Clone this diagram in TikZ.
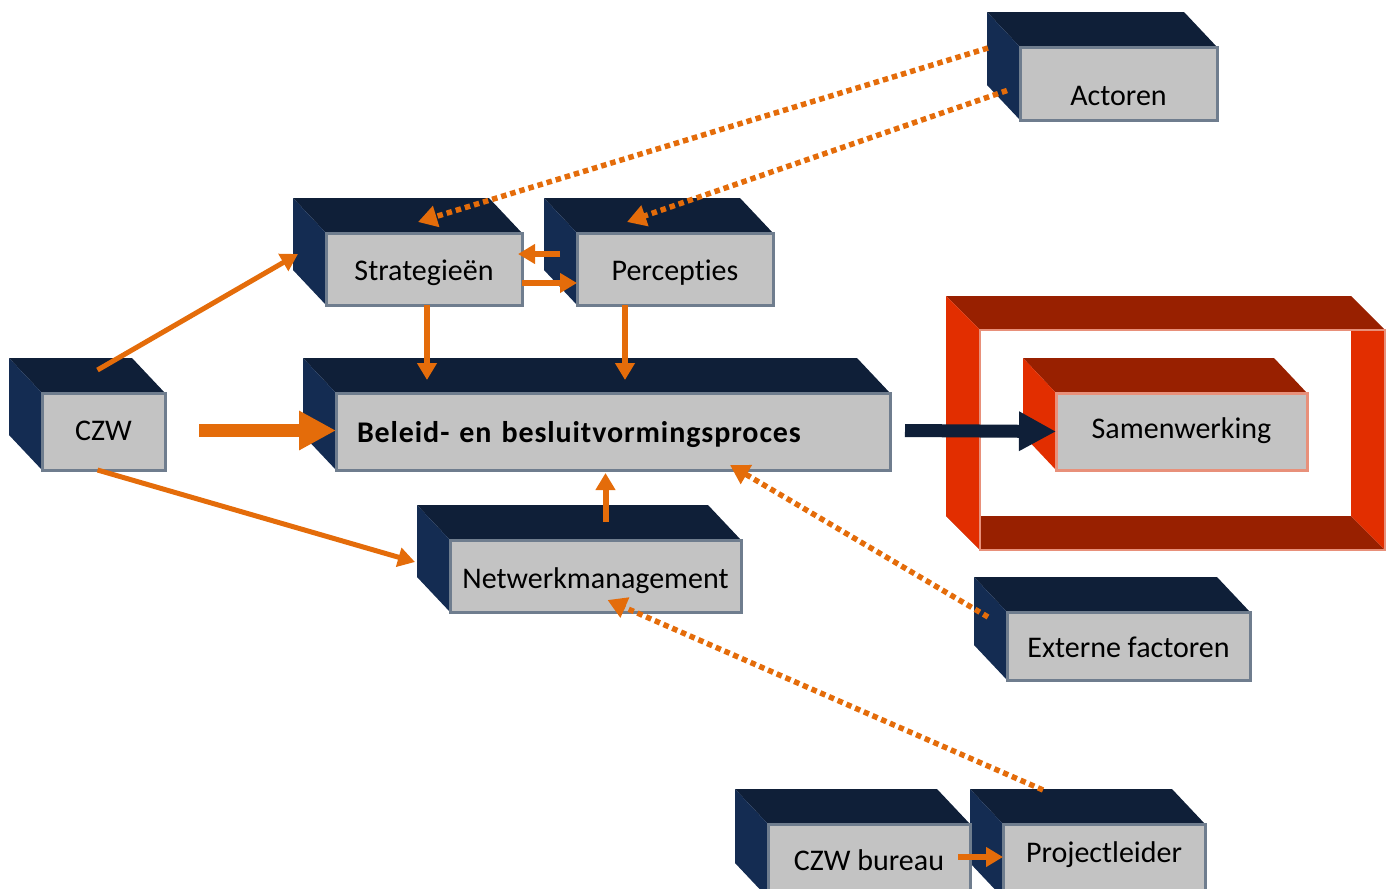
\documentclass[tikz,border=0pt]{standalone}
\usepackage{fontspec}
\setmainfont{Carlito}[Ligatures=NoCommon]
\newfontfamily\widebold{Carlito}[Ligatures=NoCommon,LetterSpace=3.0]
\usetikzlibrary{arrows.meta,backgrounds,calc}

\definecolor{navytop}{HTML}{0F1F38}
\definecolor{navyside}{HTML}{142C52}
\definecolor{facegrey}{HTML}{C3C3C3}
\definecolor{edgegrey}{HTML}{6F7D8E}
\definecolor{czworange}{HTML}{E46C0A}
\definecolor{redtop}{HTML}{982000}
\definecolor{redside}{HTML}{E22E00}
\definecolor{salmon}{HTML}{E8907A}

% top and left face of a block (drawn behind the node)
\newcommand{\blockfaces}[3]{%
  \fill[#2] (#1.north west) -- ++(-33,-35) -- ($(#1.north east)+(-33,-35)$) -- (#1.north east) -- cycle;
  \fill[#3] (#1.north west) -- ++(-33,-35) -- ($(#1.south west)+(-33,-35)$) -- (#1.south west) -- cycle;}

\begin{document}
\begin{tikzpicture}[x=1pt,y=-1pt]
        \tikzstyle{block}=[rectangle,draw=edgegrey,line width=3pt,fill=facegrey,outer sep=0pt,inner sep=0pt,text height=22pt,text depth=0pt,font=\fontsize{30}{35}\selectfont]
        \tikzstyle{flow}=[draw=czworange,line width=6pt,-{Triangle[length=17pt,width=19pt]}]
        \tikzstyle{dotflow}=[draw=czworange,line width=5.5pt,dash pattern=on 5.5pt off 4pt,-{Triangle[length=19pt,width=21pt]}]
        \tikzstyle{bigflow}=[line width=13pt,-{Triangle[length=37pt,width=37pt]}]
        \useasboundingbox (0,0) rectangle (1393,889);

        \node [block,minimum width=197pt,minimum height=73pt,text height=43pt,text width=187pt,align=center] (act) at (1118.5,83.5) {Actoren\hspace*{10pt}};
        \node [block,minimum width=196pt,minimum height=72pt] (strat) at (424,269) {Strategieën};
        \node [block,minimum width=196pt,minimum height=72pt] (perc) at (675,269) {Percepties};
        \node [block,minimum width=123pt,minimum height=77pt,text height=17pt] (czw) at (103.5,431.5) {CZW};
        \node [block,minimum width=554pt,minimum height=77pt,text width=512pt,align=left,font=\fontsize{30}{35}\selectfont\widebold\bfseries] (bel) at (613,431.5) {Beleid- en besluitvormingsproces};
        \node [block,minimum width=291pt,minimum height=72pt,text height=24pt] (netw) at (595.5,576) {Netwerkmanagement};
        \node [block,minimum width=243pt,minimum height=68pt] (ext) at (1128.5,646) {Externe factoren};
        \node [block,minimum width=202pt,minimum height=74pt,text height=18pt] (czwb) at (869,861) {CZW bureau};
        \node [block,minimum width=202pt,minimum height=74pt,text height=2pt] (proj) at (1104,861) {Projectleider};
        \node [block,draw=salmon,minimum width=251pt,minimum height=77pt,text height=13pt] (samen) at (1181.5,431.5) {Samenwerking};

        \begin{scope}[on background layer]
            % red frame round Samenwerking
            \fill[redtop] (946,296) -- (1351,296) -- (1385,330) -- (980,330) -- cycle;
            \fill[redtop] (946,516) -- (1351,516) -- (1385,550) -- (980,550) -- cycle;
            \fill[redside] (946,296) -- (980,330) -- (980,550) -- (946,516) -- cycle;
            \fill[redside] (1351,330) -- (1385,330) -- (1385,550) -- (1351,516) -- cycle;
            \draw[salmon,line width=2pt] (980,330) rectangle (1385,550);
            \blockfaces{samen}{redtop}{redside}
            \foreach \b in {act,strat,perc,czw,bel,netw,ext,czwb,proj}
                \blockfaces{\b}{navytop}{navyside};
        \end{scope}

        \draw[dotflow] ([shift={(-32,1)}]act.north west) -- ([shift={(-6,-11)}]strat.north);
        \draw[dotflow] ([shift={(-13,7)}]act.west) -- ([shift={(-48,-11)}]perc.north);
        \draw[flow] ([shift={(-17,-15)}]perc.west) -- ([shift={(-4,-15)}]strat.east);
        \draw[flow] ([shift={(0,14)}]strat.east) -- ([shift={(0,14)}]perc.west);
        \draw[flow] ([shift={(3,0)}]strat.south) -- ($(strat.south |- bel.north)+(3,-13)$);
        \draw[flow] ([shift={(-50,0)}]perc.south) -- ($(perc.south |- bel.north)+(-50,-13)$);
        \draw[flow,line width=5pt] ([shift={(-6,-23)}]czw.north) -- ([shift={(-28,-15)}]strat.west);
        \draw[flow,bigflow] ([shift={(34,-1)}]czw.east) -- ([shift={(0,-1)}]bel.west);
        \draw[flow,line width=5pt] ([shift={(-6,0)}]czw.south) -- ([shift={(-35,-14)}]netw.west);
        \draw[flow] ([shift={(10,-18)}]netw.north) -- ($(netw.north |- bel.south)+(10,3)$);
        \draw[dotflow] ([shift={(-19,5)}]ext.north west) -- ([shift={(-160,-5)}]bel.south east);
        \draw[dotflow] ([shift={(-61,-34)}]proj.north) -- ([shift={(12,-12)}]netw.south);
        \draw[flow] ([shift={(-12,-4)}]czwb.east) -- ([shift={(0,-4)}]proj.west);
        \draw[bigflow,draw=navytop,fill=navytop] ([shift={(15,-1)}]bel.east) -- (samen.west);
\end{tikzpicture}
\end{document}
